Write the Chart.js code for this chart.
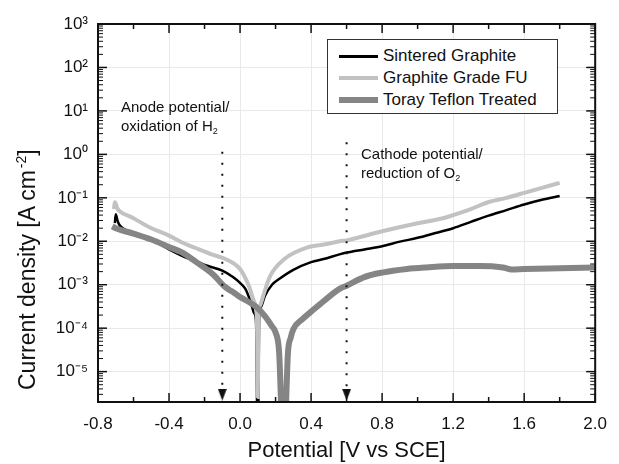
<!DOCTYPE html>
<html>
<head>
<meta charset="utf-8">
<script src="https://cdn.jsdelivr.net/npm/chart.js@4/dist/chart.umd.min.js"></script>
<style>
  body { margin: 0; background: #fff; }
  #wrap { position: relative; width: 619px; height: 464px; font-family: "Liberation Sans", Arial, sans-serif; color: #111; }
  #chart { position: absolute; left: 0; top: 0; }
  .note { position: absolute; font-size: 15px; line-height: 19px; white-space: nowrap; }
  .note sub { font-size: 9px; vertical-align: -3px; line-height: 0; }
  #ytitle { position: absolute; left: 27px; top: 390px; font-size: 23px; line-height: 26px; white-space: nowrap;
            transform-origin: 0 0; transform: rotate(-90deg) translateY(-50%); }
  #ytitle sup { font-size: 14px; line-height: 0; vertical-align: 9px; margin-left: 2px; }
  #legend { position: absolute; left: 327px; top: 39px; width: 229px; height: 73px; border: 1px solid #333; background: #fff; }
  .row { position: absolute; left: 0; width: 100%; height: 20px; }
  .swatch { position: absolute; left: 11px; width: 39px; }
  .label { position: absolute; left: 55px; top: 0; font-size: 17px; line-height: 20px; white-space: nowrap; }
</style>
</head>
<body>
<div id="wrap">
  <canvas id="chart" width="619" height="464"></canvas>
  <div id="ytitle">Current density [A cm<sup>-2</sup>]</div>
  <div class="note" style="left:121px; top:97px;">Anode potential/<br>oxidation of H<sub>2</sub></div>
  <div class="note" style="left:361px; top:144px;">Cathode potential/<br>reduction of O<sub>2</sub></div>
  <div id="legend"></div>
</div>
<script>
// ---- data ----
const seriesNames = ['Sintered Graphite', 'Graphite Grade FU', 'Toray Teflon Treated'];

const sinteredE = [-0.705, -0.70, -0.69, -0.68, -0.66, -0.6, -0.5, -0.4, -0.33, -0.25, -0.18, -0.1, -0.04, 0.0, 0.03, 0.06, 0.08, 0.09, 0.1, 0.108, 0.12, 0.14, 0.18, 0.22, 0.3, 0.4, 0.47, 0.56, 0.6, 0.7, 0.8, 0.9, 1.0, 1.1, 1.2, 1.3, 1.4, 1.5, 1.6, 1.7, 1.8];
const sinteredI = [2.6e-2, 4.2e-2, 3.0e-2, 2.4e-2, 2.0e-2, 1.5e-2, 1.1e-2, 6.5e-3, 4.7e-3, 3.5e-3, 2.7e-3, 2.1e-3, 1.5e-3, 1.1e-3, 8.0e-4, 4.0e-4, 2.2e-4, 1.4e-4, 1e-7, 1.6e-4, 3.2e-4, 5.5e-4, 1.0e-3, 1.35e-3, 2.2e-3, 3.3e-3, 3.9e-3, 5.0e-3, 5.5e-3, 6.5e-3, 7.7e-3, 9.8e-3, 1.2e-2, 1.55e-2, 2.0e-2, 2.8e-2, 3.9e-2, 5.2e-2, 7.0e-2, 9.0e-2, 1.1e-1];

const fuE = [-0.71, -0.705, -0.69, -0.68, -0.6, -0.51, -0.4, -0.33, -0.25, -0.16, -0.07, 0.0, 0.05, 0.08, 0.095, 0.1, 0.104, 0.115, 0.13, 0.17, 0.25, 0.38, 0.48, 0.56, 0.6, 0.8, 1.0, 1.13, 1.2, 1.3, 1.4, 1.5, 1.6, 1.7, 1.8];
const fuI = [5.5e-2, 7.9e-2, 5.6e-2, 5.0e-2, 3.4e-2, 2.1e-2, 1.35e-2, 9.5e-3, 7.0e-3, 5.0e-3, 3.7e-3, 2.3e-3, 9.3e-4, 4.0e-4, 1.6e-4, 2.6e-6, 1.6e-4, 3.5e-4, 5.5e-4, 1.6e-3, 3.9e-3, 7.2e-3, 8.5e-3, 1.0e-2, 1.05e-2, 1.7e-2, 2.6e-2, 3.3e-2, 4.0e-2, 5.5e-2, 8.0e-2, 1.0e-1, 1.3e-1, 1.7e-1, 2.2e-1];

const teflonE = [-0.72, -0.7, -0.6, -0.5, -0.4, -0.33, -0.25, -0.15, -0.09, -0.06, -0.04, 0.0, 0.05, 0.09, 0.14, 0.18, 0.2, 0.22, 0.245, 0.27, 0.285, 0.3, 0.35, 0.4, 0.48, 0.56, 0.6, 0.7, 0.8, 0.94, 1.05, 1.2, 1.35, 1.48, 1.53, 1.6, 1.8, 2.0];
const teflonI = [2.2e-2, 2.0e-2, 1.5e-2, 1.1e-2, 7.4e-3, 5.6e-3, 3.4e-3, 1.7e-3, 9.3e-4, 7.6e-4, 6.8e-4, 5.2e-4, 4.0e-4, 3.1e-4, 1.9e-4, 1.1e-4, 8.0e-5, 2.8e-5, 1e-7, 2.8e-5, 6.0e-5, 9.5e-5, 1.6e-4, 2.4e-4, 4.5e-4, 8.0e-4, 9.5e-4, 1.5e-3, 1.9e-3, 2.3e-3, 2.5e-3, 2.7e-3, 2.7e-3, 2.5e-3, 2.25e-3, 2.3e-3, 2.4e-3, 2.5e-3];

// dotted reference lines (anode / cathode potential)
const markerE = [-0.1, 0.6];
const markerTop = [1.15, 1.9];
const markerTip = 2.95e-6;

const xTicks = [-0.8, -0.4, 0.0, 0.4, 0.8, 1.2, 1.6, 2.0];
const yTicks = [1e-5, 1e-4, 1e-3, 1e-2, 1e-1, 1, 10, 100, 1000];
const xMin = -0.8, xMax = 2.0, yMin = 2e-6, yMax = 1e3;

// ---- styles ----
const FONT = "'Liberation Sans', Arial, sans-serif";
const COLORS = ['#000000', '#c2c2c2', '#858585'];
const WIDTHS = [2.5, 4, 6];
const LEGEND_WIDTHS = [3, 4, 6];

const SUP = { '-': '\u207B', '0': '\u2070', '1': '\u00B9', '2': '\u00B2', '3': '\u00B3',
              '4': '\u2074', '5': '\u2075', '6': '\u2076', '7': '\u2077', '8': '\u2078', '9': '\u2079' };
function powLabel(v) {
    const e = Math.round(Math.log10(v));
    return '10' + String(e).split('').map(c => SUP[c]).join('');
}

function toPoints(xs, ys) {
    return xs.map((x, i) => ({ x: x, y: ys[i] }));
}

// narrow downward arrowhead for the dotted markers
function arrowHead() {
    const c = document.createElement('canvas');
    c.width = 9; c.height = 12;
    const g = c.getContext('2d');
    g.fillStyle = '#111';
    g.beginPath(); g.moveTo(0, 0); g.lineTo(9, 0); g.lineTo(4.5, 12); g.closePath(); g.fill();
    return c;
}

// ---- legend (html) ----
const legend = document.getElementById('legend');
seriesNames.forEach((name, i) => {
    const row = document.createElement('div');
    row.className = 'row';
    row.style.top = (6 + i * 22) + 'px';
    const sw = document.createElement('div');
    sw.className = 'swatch';
    sw.style.height = LEGEND_WIDTHS[i] + 'px';
    sw.style.top = (10 - LEGEND_WIDTHS[i] / 2) + 'px';
    sw.style.background = COLORS[i];
    const lb = document.createElement('div');
    lb.className = 'label';
    lb.textContent = name;
    row.appendChild(sw);
    row.appendChild(lb);
    legend.appendChild(row);
});

// ---- frame + inward ticks on all four sides ----
const frameTicks = {
    id: 'frameTicks',
    afterDatasetsDraw(chart) {
        const { ctx, chartArea: a, scales: { x, y } } = chart;
        ctx.save();
        ctx.strokeStyle = '#111';
        ctx.lineWidth = 1.5;
        const seg = (x1, y1, x2, y2) => { ctx.beginPath(); ctx.moveTo(x1, y1); ctx.lineTo(x2, y2); ctx.stroke(); };

        xTicks.forEach((v, i) => {
            const px = x.getPixelForValue(v);
            seg(px, a.bottom, px, a.bottom - 9);
            seg(px, a.top, px, a.top + 9);
            if (i < xTicks.length - 1) {
                const pm = x.getPixelForValue((v + xTicks[i + 1]) / 2);
                seg(pm, a.bottom, pm, a.bottom - 5);
                seg(pm, a.top, pm, a.top + 5);
            }
        });

        for (let e = -6; e <= 3; e++) {
            for (let k = 1; k <= 9; k++) {
                const v = k * Math.pow(10, e);
                if (v < yMin * 0.999 || v > yMax * 1.001) continue;
                const py = y.getPixelForValue(v);
                const len = k === 1 ? 9 : 5;
                ctx.lineWidth = k === 1 ? 1.5 : 1;
                seg(a.left, py, a.left + len, py);
                seg(a.right, py, a.right - len, py);
            }
        }

        ctx.lineWidth = 2;
        ctx.strokeRect(a.left, a.top, a.right - a.left, a.bottom - a.top);
        ctx.restore();
    }
};

// ---- datasets ----
const curveSets = [
    [sinteredE, sinteredI],
    [fuE, fuI],
    [teflonE, teflonI],
].map(([xs, ys], i) => ({
    label: seriesNames[i],
    data: toPoints(xs, ys),
    showLine: true,
    borderColor: COLORS[i],
    backgroundColor: COLORS[i],
    borderWidth: WIDTHS[i],
    pointRadius: 0,
    cubicInterpolationMode: 'monotone',
    clip: 0,
    order: 2 - i,
}));

const head = arrowHead();
const markerSets = markerE.map((e, i) => ({
    label: 'marker' + i,
    data: [{ x: e, y: markerTop[i] }, { x: e, y: markerTip }],
    showLine: true,
    borderColor: '#111',
    borderWidth: 2,
    borderDash: [2, 9],
    pointRadius: [0, 6],
    pointStyle: [false, head],
    clip: 0,
    order: -1,
}));

new Chart(document.getElementById('chart'), {
    type: 'scatter',
    data: { datasets: [...curveSets, ...markerSets] },
    options: {
        responsive: false,
        animation: false,
        events: [],
        layout: { padding: { top: 24, right: 14, bottom: 0, left: 0 } },
        plugins: {
            legend: { display: false },
            tooltip: { enabled: false },
        },
        scales: {
            x: {
                type: 'linear',
                min: xMin,
                max: xMax,
                afterBuildTicks: s => { s.ticks = xTicks.map(v => ({ value: v })); },
                afterFit: s => { s.height = 62; },
                grid: { color: '#e9e9e9', drawTicks: false },
                border: { display: false },
                ticks: {
                    padding: 12,
                    color: '#111',
                    font: { family: FONT, size: 17 },
                    callback: v => (Math.abs(v) < 1e-9 ? 0 : v).toFixed(1),
                },
                title: {
                    display: true,
                    text: 'Potential [V vs SCE]',
                    color: '#111',
                    font: { family: FONT, size: 22 },
                    padding: { top: 0, bottom: 0 },
                },
            },
            y: {
                type: 'logarithmic',
                min: yMin,
                max: yMax,
                afterBuildTicks: s => { s.ticks = yTicks.map(v => ({ value: v })); },
                afterFit: s => { s.width = 98; },
                grid: { color: '#e9e9e9', drawTicks: false },
                border: { display: false },
                ticks: {
                    padding: 10,
                    color: '#111',
                    font: { family: FONT, size: 17 },
                    callback: v => powLabel(v),
                },
            },
        },
    },
    plugins: [frameTicks],
});
</script>
</body>
</html>
